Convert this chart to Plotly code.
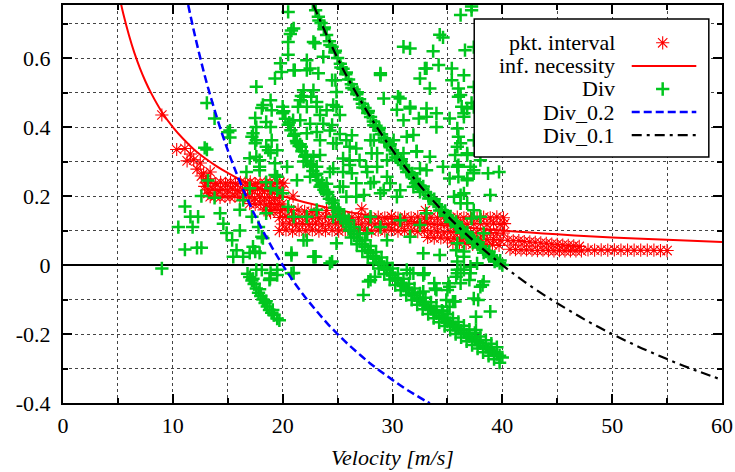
import plotly.graph_objects as go

# ---------------- data ----------------
# packet interval samples: (velocity [m/s], value)
pkt_low_speed = [(9.0, 0.435), (10.35, 0.335), (11.1, 0.338), (11.3, 0.302), (11.6, 0.322),
                 (11.9, 0.305), (12.2, 0.278), (12.5, 0.296), (12.8, 0.266), (13.1, 0.25),
                 (12.9, 0.228), (13.2, 0.208), (12.6, 0.258), (13.4, 0.27)]
pkt_band_a = [(13.0, 0.238), (13.45, 0.241), (13.9, 0.236), (14.35, 0.24), (14.8, 0.237), (15.25, 0.239),
              (15.7, 0.236), (16.15, 0.24), (16.6, 0.238), (17.05, 0.241), (17.5, 0.236), (17.95, 0.239),
              (18.4, 0.237), (18.85, 0.24), (19.3, 0.236), (19.75, 0.239), (20.1, 0.237),
              (13.2, 0.218), (13.65, 0.22), (14.1, 0.216), (14.55, 0.219), (15.0, 0.217), (15.45, 0.22),
              (15.9, 0.216), (16.35, 0.218), (16.8, 0.22), (17.25, 0.216), (17.7, 0.219), (18.15, 0.217),
              (18.6, 0.22), (19.05, 0.216), (19.5, 0.218), (19.95, 0.217),
              (13.4, 0.198), (13.85, 0.2), (14.3, 0.196), (14.75, 0.199), (15.2, 0.197), (15.65, 0.2),
              (16.1, 0.196), (16.55, 0.198), (17.0, 0.197), (17.45, 0.194), (17.9, 0.198), (18.35, 0.195),
              (18.8, 0.197), (19.25, 0.194), (19.7, 0.196),
              (17.0, 0.178), (17.5, 0.176), (18.0, 0.179), (18.5, 0.175), (19.0, 0.178), (19.5, 0.176),
              (19.95, 0.177), (18.3, 0.16), (18.8, 0.158), (19.3, 0.161), (19.8, 0.158), (18.9, 0.152)]
pkt_band_b = [(19.7, 0.138), (20.3, 0.141), (20.9, 0.136), (21.5, 0.14), (22.1, 0.137), (22.7, 0.139),
              (23.3, 0.136), (23.9, 0.14), (24.5, 0.138), (25.1, 0.141), (25.7, 0.136), (26.3, 0.139),
              (26.9, 0.137), (27.5, 0.14), (28.1, 0.136), (28.7, 0.139), (29.3, 0.137), (29.9, 0.141),
              (30.5, 0.136), (31.1, 0.139), (31.7, 0.137), (32.3, 0.14), (32.9, 0.136), (33.5, 0.139),
              (34.1, 0.137), (34.7, 0.14), (35.3, 0.136), (35.9, 0.139), (36.5, 0.137), (37.1, 0.14),
              (37.7, 0.136), (38.3, 0.139), (38.9, 0.137), (39.5, 0.14), (40.1, 0.137),
              (20.0, 0.119), (20.6, 0.121), (21.2, 0.117), (21.8, 0.12), (22.4, 0.118), (23.0, 0.121),
              (23.6, 0.117), (24.2, 0.119), (24.8, 0.12), (25.4, 0.117), (26.0, 0.121), (26.6, 0.118),
              (27.2, 0.119), (27.8, 0.121), (28.4, 0.117), (29.0, 0.12), (29.6, 0.118), (30.2, 0.121),
              (30.8, 0.117), (31.4, 0.119), (32.0, 0.12), (32.6, 0.117), (33.2, 0.121), (33.8, 0.118),
              (34.4, 0.119), (35.0, 0.12), (35.6, 0.117), (36.2, 0.121), (36.8, 0.118), (37.4, 0.119),
              (38.0, 0.12), (38.6, 0.117), (39.2, 0.121), (39.8, 0.118), (40.2, 0.12),
              (19.7, 0.1), (20.3, 0.102), (20.9, 0.098), (21.5, 0.101), (22.1, 0.099), (22.7, 0.102),
              (23.3, 0.098), (23.9, 0.1), (24.5, 0.101), (25.1, 0.098), (25.7, 0.102), (26.3, 0.099),
              (26.9, 0.1), (27.5, 0.102), (28.1, 0.098), (28.7, 0.101), (29.3, 0.099), (29.9, 0.102),
              (30.5, 0.098), (31.1, 0.1), (31.7, 0.099), (32.3, 0.097), (32.9, 0.1), (33.5, 0.096),
              (34.1, 0.098), (34.7, 0.095), (35.3, 0.097), (35.9, 0.094), (36.5, 0.096), (37.1, 0.093),
              (37.7, 0.095), (38.3, 0.092), (38.9, 0.094), (39.5, 0.092), (40.1, 0.093),
              (33.2, 0.08), (33.8, 0.078), (34.4, 0.079), (35.0, 0.076), (35.6, 0.078), (36.2, 0.075),
              (36.8, 0.077), (37.4, 0.074), (38.0, 0.075), (38.6, 0.073), (39.2, 0.074), (39.8, 0.072),
              (35.5, 0.064), (36.1, 0.062), (36.7, 0.063), (37.3, 0.06), (37.9, 0.061), (38.5, 0.058),
              (39.1, 0.059), (39.7, 0.057),
              (20.2, 0.162), (20.8, 0.158), (21.4, 0.16), (22.0, 0.156), (22.6, 0.155), (23.2, 0.153),
              (20.95, 0.2), (27.2, 0.163), (33.0, 0.158), (24.0, 0.158)]
pkt_high_speed = [(40.5, 0.072), (41.0, 0.07), (41.5, 0.071), (42.0, 0.068), (42.5, 0.067), (43.0, 0.066),
                  (43.5, 0.064), (44.0, 0.063), (44.5, 0.061), (45.0, 0.06), (45.5, 0.058), (46.0, 0.057),
                  (46.5, 0.056), (47.0, 0.054),
                  (40.7, 0.046), (41.2, 0.045), (41.7, 0.044), (42.2, 0.044), (42.7, 0.043), (43.2, 0.042),
                  (43.7, 0.043), (44.2, 0.042), (44.7, 0.041), (45.2, 0.042), (45.7, 0.041), (46.2, 0.041),
                  (46.7, 0.041), (47.2, 0.041),
                  (47.8, 0.044), (48.4, 0.043), (49.0, 0.044), (49.6, 0.043), (50.2, 0.044), (50.8, 0.043),
                  (51.4, 0.043), (52.0, 0.043), (52.6, 0.043), (53.2, 0.043), (53.8, 0.043), (54.4, 0.042),
                  (55.0, 0.042)]

# information necessity curve
inf_v = [5.3, 5.5, 6.0, 6.5, 7.0, 7.5, 8.0, 9.0, 10.0, 11.0, 12.0, 13.0, 14.0, 15.0, 16.0, 18.0,
         20.0, 22.0, 25.0, 28.0, 31.0, 35.0, 40.0, 45.0, 50.0, 55.0, 60.0]
inf_val = [0.755, 0.727, 0.667, 0.615, 0.571, 0.533, 0.5, 0.444, 0.4, 0.364, 0.333, 0.308, 0.286,
           0.267, 0.25, 0.222, 0.2, 0.182, 0.16, 0.143, 0.129, 0.114, 0.1, 0.089, 0.08, 0.073, 0.067]

# Div samples: dense run that follows Div_0.1
div_fast_v = [22.5, 22.75, 23.0, 23.25, 23.5, 23.75, 24.0, 24.25, 24.5, 24.75, 25.0, 25.25, 25.5, 25.75,
              26.0, 26.25, 26.5, 26.75, 27.0, 27.25, 27.5, 27.75, 28.0, 28.25, 28.5, 28.75, 29.0, 29.25,
              29.5, 29.75, 30.0, 30.25, 30.5, 30.75, 31.0, 31.25, 31.5, 31.75, 32.0, 32.25, 32.5, 32.75,
              33.0, 33.25, 33.5, 33.75, 34.0, 34.25, 34.5, 34.75, 35.0, 35.25, 35.5, 35.75, 36.0, 36.25,
              36.5, 36.75, 37.0, 37.25, 37.5, 37.75, 38.0, 38.25, 38.5, 38.75, 39.0, 39.25, 39.5, 39.75, 40.0,
              22.8, 23.3, 23.8, 24.3, 24.8, 25.3, 25.8, 26.3, 26.8, 27.3, 27.8, 28.3, 28.8, 29.3, 29.8,
              30.3, 30.8, 31.3, 31.8, 32.3, 32.8, 33.3, 33.8, 34.3, 34.8, 35.3, 35.8, 36.3, 36.8, 37.3,
              37.8, 38.3, 38.8, 39.3, 39.8]
div_fast_val = [0.778, 0.758, 0.739, 0.72, 0.702, 0.684, 0.667, 0.649, 0.633, 0.616, 0.6, 0.584, 0.569,
                0.553, 0.538, 0.524, 0.509, 0.495, 0.481, 0.468, 0.455, 0.441, 0.429, 0.416, 0.404, 0.391,
                0.379, 0.368, 0.356, 0.345, 0.333, 0.322, 0.311, 0.301, 0.29, 0.28, 0.27, 0.26, 0.25, 0.24,
                0.231, 0.221, 0.212, 0.203, 0.194, 0.185, 0.176, 0.168, 0.159, 0.151, 0.143, 0.135, 0.127,
                0.119, 0.111, 0.103, 0.096, 0.088, 0.081, 0.074, 0.067, 0.06, 0.053, 0.046, 0.039, 0.032,
                0.026, 0.019, 0.013, 0.006, 0.0,
                0.762, 0.709, 0.689, 0.638, 0.621, 0.573, 0.558, 0.513, 0.501, 0.457, 0.447, 0.405,
                0.397, 0.357, 0.35, 0.312, 0.307, 0.27, 0.266, 0.23, 0.228, 0.193, 0.191, 0.158,
                0.157, 0.125, 0.125, 0.094, 0.095, 0.064, 0.066, 0.036, 0.039, 0.01, 0.013]

# Div samples: dense run from (20, 0.44) to (40, -0.27)
div_mid_v = [20.0, 20.25, 20.5, 20.75, 21.0, 21.25, 21.5, 21.75, 22.0, 22.25, 22.5, 22.75, 23.0, 23.25,
             23.5, 23.75, 24.0, 24.25, 24.5, 24.75, 25.0, 25.25, 25.5, 25.75, 26.0, 26.25, 26.5, 26.75,
             27.0, 27.25, 27.5, 27.75, 28.0, 28.25, 28.5, 28.75, 29.0, 29.25, 29.5, 29.75, 30.0, 30.25,
             30.5, 30.75, 31.0, 31.25, 31.5, 31.75, 32.0, 32.25, 32.5, 32.75, 33.0, 33.25, 33.5, 33.75,
             34.0, 34.25, 34.5, 34.75, 35.0, 35.25, 35.5, 35.75, 36.0, 36.25, 36.5, 36.75, 37.0, 37.25,
             37.5, 37.75, 38.0, 38.25, 38.5, 38.75, 39.0, 39.25, 39.5, 39.75, 40.0,
             20.1, 20.6, 21.1, 21.6, 22.1, 22.6, 23.1, 23.6, 24.1, 24.6, 25.1, 25.6,
             26.0, 26.5, 27.0, 27.5, 28.0, 28.5, 29.0, 29.5, 30.0, 30.5, 31.0, 31.5, 32.0, 32.5, 33.0,
             33.5, 34.0, 34.5, 35.0, 35.5, 36.0, 36.5, 37.0, 37.5, 38.0, 38.5, 39.0, 39.5,
             26.25, 26.75, 27.25, 27.75, 28.25, 28.75, 29.25, 29.75, 30.25, 30.75, 31.25, 31.75, 32.25,
             32.75, 33.25, 33.75, 34.25, 34.75, 35.25, 35.75, 36.25, 36.75, 37.25, 37.75, 38.25, 38.75,
             39.25, 39.75]
div_mid_val = [0.44, 0.424, 0.407, 0.391, 0.375, 0.36, 0.345, 0.33, 0.315, 0.301, 0.287, 0.273, 0.26,
               0.246, 0.232, 0.218, 0.205, 0.192, 0.18, 0.167, 0.155, 0.143, 0.132, 0.121, 0.11, 0.1,
               0.09, 0.08, 0.07, 0.061, 0.052, 0.043, 0.035, 0.026, 0.018, 0.01, 0.002, -0.006, -0.014,
               -0.022, -0.03, -0.038, -0.045, -0.053, -0.06, -0.067, -0.074, -0.081, -0.088, -0.095,
               -0.102, -0.108, -0.115, -0.122, -0.128, -0.134, -0.14, -0.146, -0.152, -0.157, -0.163,
               -0.168, -0.174, -0.18, -0.185, -0.19, -0.196, -0.201, -0.207, -0.212, -0.217, -0.222,
               -0.227, -0.233, -0.238, -0.243, -0.248, -0.253, -0.258, -0.263, -0.268,
               0.446, 0.413, 0.381, 0.35, 0.32, 0.292, 0.265, 0.238, 0.212, 0.187, 0.162, 0.14,
               0.13, 0.11, 0.09, 0.072, 0.055, 0.038, 0.022, 0.006, -0.01, -0.025, -0.04, -0.054,
               -0.068, -0.082, -0.095, -0.108, -0.12, -0.132, -0.143, -0.154, -0.165, -0.176, -0.187,
               -0.197, -0.207, -0.218, -0.228, -0.238,
               0.08, 0.06, 0.041, 0.023, 0.006, -0.01, -0.026, -0.042, -0.058, -0.073, -0.087, -0.101,
               -0.115, -0.128, -0.142, -0.154, -0.166, -0.177, -0.188, -0.2, -0.21, -0.221, -0.232,
               -0.242, -0.253, -0.263, -0.273, -0.283]

# Div samples: short run below zero around 17-20 m/s
div_slow = [(16.8, -0.025), (17.0, -0.035), (17.2, -0.045), (17.4, -0.055), (17.6, -0.068),
            (17.8, -0.08), (18.0, -0.09), (18.2, -0.1), (18.4, -0.11), (18.6, -0.12), (18.8, -0.13),
            (19.0, -0.138), (19.2, -0.145), (19.5, -0.155), (19.7, -0.16), (17.3, -0.04),
            (17.9, -0.07), (18.5, -0.105), (19.1, -0.13)]

# Div samples: scattered
div_scatter = [(9.0, -0.01), (10.5, 0.11), (11.1, 0.17), (11.6, 0.14), (12.3, 0.14), (11.8, 0.11),
               (11.1, 0.045), (12.2, 0.05), (12.6, 0.05), (12.6, 0.2), (13.8, 0.195), (13.2, 0.245),
               (13.1, 0.335), (12.9, 0.34), (13.1, 0.47), (13.8, 0.425), (15.0, 0.385), (15.2, 0.37),
               (15.2, 0.39), (14.3, 0.15), (14.6, 0.12), (14.9, 0.093), (15.4, 0.072), (15.8, 0.043),
               (16.4, 0.024), (15.5, 0.024), (17.0, 0.035), (16.1, 0.1), (17.3, 0.053), (17.9, 0.035),
               (17.6, -0.014), (18.9, -0.023), (19.5, -0.014), (20.8, 0.035), (21.0, -0.023),
               (16.4, 0.188), (16.1, 0.16), (17.2, 0.14), (17.8, 0.11), (18.5, 0.15), (18.1, 0.082),
               (17.0, 0.223), (18.9, 0.223), (18.5, 0.24), (21.3, 0.246), (20.5, 0.169), (16.7, 0.27),
               (17.6, 0.362), (17.6, 0.314), (18.9, 0.325), (19.3, 0.295), (17.9, 0.285), (17.3, 0.382),
               (18.9, 0.4), (18.2, 0.464), (20.0, 0.459), (22.5, 0.41), (22.2, 0.382), (21.3, 0.353),
               (22.8, 0.314), (19.5, 0.256), (20.0, 0.208), (21.0, 0.14), (22.2, 0.072), (22.8, 0.024),
               (17.5, 0.426), (17.6, 0.4), (17.2, 0.372), (18.5, 0.415), (19.0, 0.362), (18.7, 0.333),
               (17.0, 0.31), (17.9, 0.304), (18.1, 0.455), (17.6, 0.517), (18.9, 0.478), (19.3, 0.541),
               (19.8, 0.585), (19.9, 0.56), (21.1, 0.565), (20.5, 0.61), (20.5, 0.647), (20.7, 0.67),
               (20.8, 0.68), (20.5, 0.734), (22.2, 0.594), (22.2, 0.565), (21.7, 0.49), (21.4, 0.459),
               (22.95, 0.643), (23.7, 0.604), (22.5, 0.57), (23.25, 0.556), (24.8, 0.536), (21.9, 0.507),
               (22.6, 0.488), (21.6, 0.478), (23.1, 0.459), (24.0, 0.449), (24.9, 0.459), (25.2, 0.435),
               (24.5, 0.406), (23.7, 0.41), (23.1, 0.386), (23.4, 0.362), (21.6, 0.42), (20.95, 0.42),
               (19.0, 0.449), (17.5, 0.353), (18.5, 0.343), (19.5, 0.333),
               (26.3, 0.376), (25.8, 0.362), (26.7, 0.338), (28.0, 0.362), (28.1, 0.324), (27.0, 0.304),
               (27.6, 0.285), (26.3, 0.266), (28.9, 0.556), (29.2, 0.483), (30.7, 0.483), (31.6, 0.454),
               (31.0, 0.633), (31.6, 0.628), (32.5, 0.541), (33.1, 0.57), (33.7, 0.62), (34.2, 0.58),
               (33.4, 0.512), (33.1, 0.454), (33.1, 0.43), (34.0, 0.44), (32.4, 0.425), (34.3, 0.668),
               (34.6, 0.66), (36.6, 0.623), (36.2, 0.725), (37.2, 0.739),
               (36.0, 0.512), (36.0, 0.488), (36.3, 0.459), (36.8, 0.454), (35.9, 0.396), (36.0, 0.372),
               (35.9, 0.343), (36.8, 0.319), (37.1, 0.285), (36.0, 0.256), (31.9, 0.377), (31.3, 0.372),
               (31.0, 0.324), (32.2, 0.329), (33.4, 0.314), (32.5, 0.28), (33.1, 0.275), (34.6, 0.285),
               (35.2, 0.251), (31.9, 0.227), (32.5, 0.212), (30.7, 0.217), (30.4, 0.198), (28.9, 0.208),
               (28.3, 0.241), (29.5, 0.304), (28.3, 0.362), (30.1, 0.362),
               (17.9, 0.275), (19.3, 0.261), (19.5, 0.217), (20.4, 0.285), (21.7, 0.343), (22.2, 0.314),
               (24.6, 0.28), (24.0, 0.236), (25.5, 0.227), (26.7, 0.198), (26.1, 0.304), (24.9, 0.353),
               (22.5, 0.256), (23.1, 0.285), (25.5, 0.27), (26.1, 0.29), (27.7, 0.27), (28.6, 0.285),
               (29.5, 0.256), (28.0, 0.237), (29.8, 0.237), (27.4, 0.203), (29.2, 0.217), (32.1, 0.237),
               (32.2, 0.33), (31.0, 0.42), (35.2, 0.425), (36.5, 0.43), (34.0, 0.4), (36.2, 0.353),
               (36.8, 0.324), (35.9, 0.285), (37.4, 0.275), (36.8, 0.246), (36.5, 0.208), (35.6, 0.198),
               (36.2, 0.179), (37.4, 0.159), (34.9, 0.145), (35.9, 0.116), (32.5, 0.116), (33.1, 0.15),
               (30.7, 0.13), (28.0, 0.14), (28.9, 0.11), (27.7, 0.092), (29.5, 0.072), (31.6, 0.082),
               (32.8, 0.034), (34.3, 0.029), (35.9, 0.063), (36.5, 0.024), (37.4, 0.072), (24.6, 0.14),
               (23.1, 0.16), (22.2, 0.14), (21.9, 0.072), (24.3, 0.005), (31.6, -0.024), (32.8, -0.024),
               (35.9, -0.014), (37.1, -0.005), (26.1, 0.1), (24.9, 0.063),
               (22.2, 0.459), (23.4, 0.435), (24.3, 0.39), (25.2, 0.38), (24.6, 0.353), (26.1, 0.343),
               (25.5, 0.309), (28.6, 0.324), (23.4, 0.319), (21.9, 0.3), (24.3, 0.27), (23.4, 0.227),
               (25.2, 0.227), (25.8, 0.198), (26.7, 0.237),
               (21.0, 0.686), (21.0, 0.565), (22.8, 0.647), (24.5, 0.536), (24.9, 0.502), (22.8, 0.507),
               (21.9, 0.488), (23.1, 0.473), (24.6, 0.464), (28.9, 0.551), (30.5, 0.488), (32.95, 0.57),
               (35.4, 0.57), (35.4, 0.536), (37.2, 0.75), (36.2, 0.493), (31.6, 0.459), (30.4, 0.45),
               (35.7, 0.319), (36.0, 0.29), (37.4, 0.266), (38.7, 0.266), (39.7, 0.27), (38.0, 0.304),
               (36.8, 0.251), (38.9, 0.203), (36.2, 0.203), (36.8, 0.179), (38.0, 0.14), (37.2, 0.135),
               (36.3, 0.106), (36.8, 0.087), (38.3, 0.092), (37.4, 0.068), (35.8, 0.043), (37.7, 0.005),
               (36.2, -0.014), (35.8, -0.034), (37.1, -0.024), (38.3, -0.048), (38.0, -0.063), (35.2, -0.063),
               (37.4, 0.632), (37.4, 0.516), (37.4, 0.458), (37.4, 0.362), (36.5, 0.55), (36.5, 0.44),
               (37.2, 0.47), (37.8, 0.46),
               (17.5, 0.039), (18.2, 0.078), (20.8, 0.029), (23.0, 0.024), (24.5, 0.01), (18.1, -0.014),
               (18.85, -0.039), (19.5, -0.029), (20.8, -0.024), (27.35, -0.087), (27.8, -0.048),
               (28.4, -0.034), (31.9, -0.024), (32.8, -0.029), (31.3, -0.014), (34.0, -0.072),
               (33.9, -0.068), (35.1, -0.053), (36.2, -0.053), (34.9, -0.101), (35.5, -0.106),
               (32.8, -0.077), (34.6, -0.135), (35.2, -0.121), (36.5, 0.039), (35.9, 0.01),
               (36.5, -0.014), (35.9, -0.024), (28.0, -0.043), (32.9, -0.024), (35.7, -0.106),
               (37.4, -0.097), (37.8, -0.101), (38.9, -0.135), (37.6, -0.15), (37.6, -0.188),
               (38.2, -0.058), (33.8, -0.053), (35.0, -0.072), (37.0, -0.043), (22.9, 0.024),
               (18.8, -0.043)]

# reference divergence curves
div02_v = [11.4, 12, 13, 14, 15, 16, 17, 18, 19, 20, 21, 22, 23, 24, 25, 26, 27, 28, 29, 30, 31, 32, 33, 33.4]
div02_val = [0.754, 0.667, 0.538, 0.429, 0.333, 0.25, 0.176, 0.111, 0.053, 0.0, -0.048, -0.091, -0.13,
             -0.167, -0.2, -0.231, -0.259, -0.286, -0.31, -0.333, -0.355, -0.375, -0.394, -0.401]
div01_v = [22.8, 24, 25, 26, 28, 30, 32, 34, 36, 38, 40, 42, 44, 46, 48, 50, 52, 54, 56, 58, 60]
div01_val = [0.754, 0.667, 0.6, 0.538, 0.429, 0.333, 0.25, 0.176, 0.111, 0.053, 0.0, -0.048, -0.091,
             -0.13, -0.167, -0.2, -0.231, -0.259, -0.286, -0.31, -0.333]

x_tick_vals = [0, 10, 20, 30, 40, 50, 60]
x_tick_text = ["0", "10", "20", "30", "40", "50", "60"]
y_tick_vals = [-0.4, -0.2, 0, 0.2, 0.4, 0.6]
y_tick_text = ["-0.4", "-0.2", "0", "0.2", "0.4", "0.6"]

legend_labels = ["pkt. interval", "inf. necessity", "Div", "Div_0.2", "Div_0.1"]

# ---------------- styles ----------------
RED = "#ff0000"
GREEN = "#00c61e"
BLUE = "#0000ff"
FONT = "'Liberation Serif', 'DejaVu Serif', serif"
TEXT_FONT = dict(family=FONT, size=22, color="black")


def unzip(points):
    return [p[0] for p in points], [p[1] for p in points]


pkt_x, pkt_y = unzip(pkt_low_speed + pkt_band_a + pkt_band_b + pkt_high_speed)
slow_x, slow_y = unzip(div_slow)
scat_x, scat_y = unzip(div_scatter)
div_x = div_mid_v + slow_x + scat_x + div_fast_v
div_y = div_mid_val + slow_y + scat_y + div_fast_val

star = dict(symbol="asterisk-open", size=11, color=RED, line=dict(color=RED, width=1.1))
plus = dict(symbol="cross-thin-open", size=9.5, color=GREEN, line=dict(color=GREEN, width=2.5))

fig = go.Figure()

fig.add_trace(go.Scatter(x=pkt_x, y=pkt_y, mode="markers", marker=star, showlegend=False))
fig.add_trace(go.Scatter(x=inf_v, y=inf_val, mode="lines", line=dict(color=RED, width=2, shape="spline"),
                         showlegend=False))
fig.add_trace(go.Scatter(x=div_x, y=div_y, mode="markers", marker=plus, showlegend=False))
fig.add_trace(go.Scatter(x=div02_v, y=div02_val, mode="lines",
                         line=dict(color=BLUE, width=2.5, dash="8px,4px", shape="spline"), showlegend=False))
fig.add_trace(go.Scatter(x=div01_v, y=div01_val, mode="lines",
                         line=dict(color="black", width=2.2, dash="10px,5px,3px,5px", shape="spline"),
                         showlegend=False))

# ---------------- key box (overlay axes spanning the plot area, 0..1) ----------------
box_l, box_r, box_b, box_t = 0.624, 0.980, 0.618, 0.965
row_y = [0.905, 0.847, 0.789, 0.731, 0.673]
text_x = 0.841
samp_c, samp_l, samp_r = 0.910, 0.863, 0.961

fig.add_trace(go.Scatter(x=[box_l, box_r, box_r, box_l, box_l], y=[box_b, box_b, box_t, box_t, box_b],
                         mode="lines", fill="toself", fillcolor="white",
                         line=dict(color="black", width=1.5), xaxis="x2", yaxis="y2",
                         showlegend=False, hoverinfo="skip"))
fig.add_trace(go.Scatter(x=[samp_c], y=[row_y[0]], mode="markers", marker=star,
                         xaxis="x2", yaxis="y2", showlegend=False, hoverinfo="skip"))
fig.add_trace(go.Scatter(x=[samp_l, samp_r], y=[row_y[1]] * 2, mode="lines", line=dict(color=RED, width=2),
                         xaxis="x2", yaxis="y2", showlegend=False, hoverinfo="skip"))
fig.add_trace(go.Scatter(x=[samp_c], y=[row_y[2]], mode="markers", marker=plus,
                         xaxis="x2", yaxis="y2", showlegend=False, hoverinfo="skip"))
fig.add_trace(go.Scatter(x=[samp_l, samp_r], y=[row_y[3]] * 2, mode="lines",
                         line=dict(color=BLUE, width=2.5, dash="8px,4px"),
                         xaxis="x2", yaxis="y2", showlegend=False, hoverinfo="skip"))
fig.add_trace(go.Scatter(x=[samp_l, samp_r], y=[row_y[4]] * 2, mode="lines",
                         line=dict(color="black", width=2.2, dash="10px,5px,3px,5px"),
                         xaxis="x2", yaxis="y2", showlegend=False, hoverinfo="skip"))

for label, yy in zip(legend_labels, row_y):
    fig.add_annotation(x=text_x, y=yy, xref="paper", yref="paper", text=label, showarrow=False,
                       xanchor="right", yanchor="middle", font=TEXT_FONT)

grid = dict(showgrid=True, gridcolor="#444444", gridwidth=1, griddash="dot")
minor_x = dict(dtick=5, tick0=0, ticks="inside", ticklen=5, tickcolor="black",
               showgrid=True, gridcolor="#444444", griddash="dot", gridwidth=1)
minor_y = dict(dtick=0.1, tick0=0, ticks="inside", ticklen=5, tickcolor="black",
               showgrid=True, gridcolor="#444444", griddash="dot", gridwidth=1)

fig.update_layout(
    template="none",
    width=735, height=472,
    margin=dict(l=63, r=13, t=5, b=69),
    paper_bgcolor="white", plot_bgcolor="white",
    font=TEXT_FONT,
    showlegend=False,
    xaxis=dict(range=[0, 60], tickmode="array", tickvals=x_tick_vals, ticktext=x_tick_text,
               ticks="inside", ticklen=9, tickwidth=1.5, tickcolor="black",
               showline=True, linecolor="black", linewidth=2, mirror="allticks",
               zeroline=False, ticklabelstandoff=2, minor=minor_x, tickfont=TEXT_FONT,
               title=dict(text="<i>Velocity [m/s]</i>", standoff=12, font=TEXT_FONT),
               automargin=False, **grid),
    yaxis=dict(range=[-0.4, 0.754], tickmode="array", tickvals=y_tick_vals, ticktext=y_tick_text,
               ticks="inside", ticklen=9, tickwidth=1.5, tickcolor="black",
               showline=True, linecolor="black", linewidth=2, mirror="allticks",
               zeroline=True, zerolinecolor="black", zerolinewidth=2, ticklabelstandoff=6,
               minor=minor_y, tickfont=TEXT_FONT, automargin=False, **grid),
    xaxis2=dict(range=[0, 1], overlaying="x", anchor="y2", visible=False, fixedrange=True),
    yaxis2=dict(range=[0, 1], overlaying="y", anchor="x2", visible=False, fixedrange=True),
)

fig.write_html("out.html")
